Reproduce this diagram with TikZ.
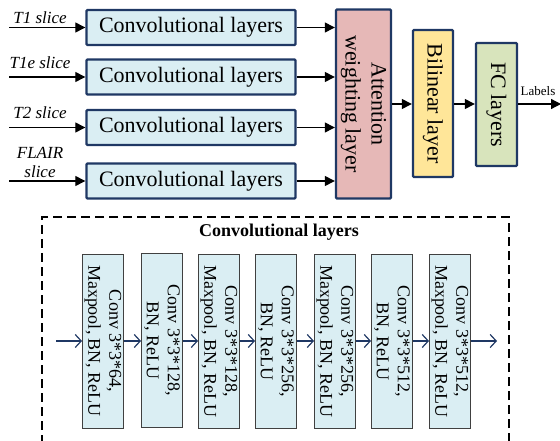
\documentclass[tikz,border=0pt]{standalone}
\usepackage{fontspec}
\setmainfont{Liberation Serif}
\usetikzlibrary{arrows.meta}
\definecolor{navy}{HTML}{1F3864}
\definecolor{lblue}{HTML}{DAEEF3}
\definecolor{pinkf}{HTML}{E6B8B7}
\definecolor{yellf}{HTML}{FFE699}
\definecolor{greenf}{HTML}{D8E4BC}
\definecolor{gborder}{HTML}{404040}
\tikzset{
  bigbox/.style={draw=navy, line width=2.4pt, rounded corners=1pt, inner sep=0pt},
  convbox/.style={bigbox, fill=lblue, minimum width=209pt, minimum height=35pt, font=\fontsize{22}{24}\selectfont},
  vbox/.style={bigbox, font=\fontsize{22}{26}\selectfont, align=center},
  smallbox/.style={draw=gborder, line width=0.9pt, fill=lblue, minimum width=174pt, minimum height=41pt, inner sep=0pt, rotate=-90, align=center, font=\fontsize{18}{21}\selectfont},
  blkarrow/.style={line width=1.3pt, -{Triangle[length=10pt,width=10pt]}},
  bluearrow/.style={draw=navy, line width=1.2pt, -{Straight Barb[length=6pt,width=13pt,line width=1.2pt]}},
  inlabel/.style={font=\fontsize{17}{19}\selectfont\itshape, align=center},
}
\begin{document}
\begin{tikzpicture}[x=1pt,y=-1pt]
\useasboundingbox (0,0) rectangle (560,441);
% top conv boxes
\node[convbox] (c1) at (191,27.5) {Convolutional layers};
\node[convbox] (c2) at (191,77) {Convolutional layers};
\node[convbox] (c3) at (191,127.5) {Convolutional layers};
\node[convbox] (c4) at (191,181) {Convolutional layers};
% inputs
\coordinate (i1) at (9,27.5);
\coordinate (i2) at (9,77);
\coordinate (i3) at (9,127.5);
\coordinate (i4) at (9,181);
\node[inlabel] (l1) at (40,18) {T1 slice};
\node[inlabel] (l2) at (40,63) {T1e slice};
\node[inlabel] (l3) at (40,113) {T2 slice};
\node[inlabel] (l4) at (40,162) {FLAIR\\slice};
\draw[blkarrow] (i1) -- (c1.west);
\draw[blkarrow] (i2) -- (c2.west);
\draw[blkarrow] (i3) -- (c3.west);
\draw[blkarrow] (i4) -- (c4.west);
% attention
\node[vbox, fill=pinkf, minimum width=189pt, minimum height=55pt, rotate=-90] (att) at (363.5,104) {Attention\\weighting layer};
\draw[blkarrow] (c1.east) -- (c1.east -| att.south);
\draw[blkarrow] (c2.east) -- (c2.east -| att.south);
\draw[blkarrow] (c3.east) -- (c3.east -| att.south);
\draw[blkarrow] (c4.east) -- (c4.east -| att.south);
% bilinear
\node[vbox, fill=yellf, minimum width=147pt, minimum height=40pt, rotate=-90] (bil) at (433,103.5) {Bilinear layer};
\node[vbox, fill=greenf, minimum width=123pt, minimum height=41pt, rotate=-90] (fc) at (496.5,104.5) {FC layers};
\draw[blkarrow] (att.north |- 0,104) -- (bil.south |- 0,104);
\draw[blkarrow] (bil.north |- 0,104) -- (fc.south |- 0,104);
\coordinate (out) at (561,104);
\draw[blkarrow] (fc.north |- 0,104) -- (out);
\node[font=\fontsize{13}{15}\selectfont] (lab) at (538,91) {Labels};
% dashed box
\draw[dashed, dash pattern=on 9pt off 5pt, line width=1.3pt] (509,470) -- (509,217) -- (42,217) -- (42,470);
\node[font=\fontsize{18}{20}\selectfont\bfseries] (title) at (279,232) {Convolutional layers};
% small boxes
\node[smallbox] (s1) at (103,341) {Conv 3*3*64,\\Maxpool, BN, ReLU};
\node[smallbox] (s2) at (162,340) {Conv 3*3*128,\\BN, ReLU};
\node[smallbox] (s3) at (219,341) {Conv 3*3*128,\\Maxpool, BN, ReLU};
\node[smallbox] (s4) at (276,341) {Conv 3*3*256,\\BN, ReLU};
\node[smallbox] (s5) at (335,341) {Conv 3*3*256,\\Maxpool, BN, ReLU};
\node[smallbox] (s6) at (392,341) {Conv 3*3*512,\\BN, ReLU};
\node[smallbox] (s7) at (450,341) {Conv 3*3*512,\\Maxpool, BN, ReLU};
\coordinate (sin) at (56,341);
\coordinate (sout) at (497,341);
\draw[bluearrow] (sin) -- (sin -| s1.south);
\draw[bluearrow] (s1.north |- 0,341) -- (s2.south |- 0,341);
\draw[bluearrow] (s2.north |- 0,341) -- (s3.south |- 0,341);
\draw[bluearrow] (s3.north |- 0,341) -- (s4.south |- 0,341);
\draw[bluearrow] (s4.north |- 0,341) -- (s5.south |- 0,341);
\draw[bluearrow] (s5.north |- 0,341) -- (s6.south |- 0,341);
\draw[bluearrow] (s6.north |- 0,341) -- (s7.south |- 0,341);
\draw[bluearrow] (s7.north |- 0,341) -- (sout);
\end{tikzpicture}
\end{document}
